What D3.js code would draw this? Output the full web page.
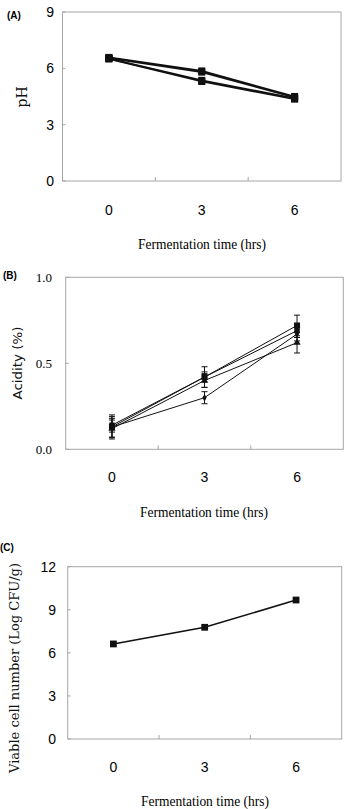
<!DOCTYPE html>
<html><head><meta charset="utf-8">
<script src="https://cdn.jsdelivr.net/npm/d3@7"></script>
<style>body{margin:0;background:#fff}svg{display:block}</style>
</head><body>
<script>
// ---- data ----
const timeCategories = ["0", "3", "6"];
const phTicks = [0, 3, 6, 9];
const phSeries1 = [6.58, 5.86, 4.50];
const phSeries2 = [6.55, 5.80, 4.45];
const phSeries3 = [6.52, 5.36, 4.40];
const phSeries4 = [6.50, 5.30, 4.36];
const acidTicks = [0.0, 0.5, 1.0];
const acidSeries1 = [0.13, 0.42, 0.72];
const acidSeries2 = [0.14, 0.42, 0.69];
const acidSeries3 = [0.12, 0.40, 0.62];
const acidSeries4 = [0.13, 0.30, 0.67];
const acidErr1 = [0.07, 0.06, 0.06];
const acidErr2 = [0.04, 0.03, 0.04];
const acidErr3 = [0.05, 0.04, 0.06];
const acidErr4 = [0.06, 0.035, 0.04];
const cellTicks = [0, 3, 6, 9, 12];
const cellSeries = [6.62, 7.78, 9.68];
const cellErr = [0.12, 0.10, 0.12];

const svg = d3.select("body").append("svg").attr("width", 350).attr("height", 809);

function panel(o) {
  const g = svg.append("g");
  const x = d3.scaleBand().domain(timeCategories).range([o.left, o.right]);
  const y = d3.scaleLinear().domain(o.domain).range([o.bottom, o.top]);
  g.append("rect").attr("x", o.left).attr("y", o.top)
    .attr("width", o.right - o.left).attr("height", o.bottom - o.top)
    .attr("fill", "none").attr("stroke", "#a6a6a6").attr("stroke-width", 1);
  timeCategories.slice(1).forEach(c => {
    g.append("line").attr("x1", x(c)).attr("x2", x(c))
      .attr("y1", o.bottom).attr("y2", o.bottom - 4)
      .attr("stroke", "#a6a6a6");
  });
  o.ticks.forEach(t => {
    g.append("line").attr("x1", o.left).attr("x2", o.left + 3)
      .attr("y1", y(t)).attr("y2", y(t)).attr("stroke", "#a6a6a6");
    g.append("text").attr("x", o.tickX).attr("y", y(t)).attr("dy", "0.35em")
      .attr("text-anchor", "end").attr("font-family", o.tickFont)
      .attr("font-size", o.tickSize).attr("fill", "#000").text(o.fmt(t));
  });
  timeCategories.forEach(c => {
    g.append("text").attr("x", x(c) + x.bandwidth() / 2).attr("y", o.xLabelY)
      .attr("dy", "0.35em").attr("text-anchor", "middle")
      .attr("font-family", "'Liberation Sans Narrow','Liberation Sans',Arial,sans-serif")
      .attr("font-size", 14).attr("fill", "#000").text(c);
  });
  g.append("text").attr("x", o.titleX).attr("y", o.titleY).attr("dy", "0.35em")
    .attr("text-anchor", "middle").attr("font-family", "'Liberation Serif','DejaVu Serif',serif")
    .attr("font-size", 14).attr("textLength", 128).attr("lengthAdjust", "spacingAndGlyphs")
    .attr("fill", "#000").text("Fermentation time (hrs)");
  g.append("text").attr("transform", `translate(${o.yTitleX},${o.yTitleY}) rotate(-90)`)
    .attr("dy", "0.35em").attr("text-anchor", "middle")
    .attr("font-family", o.yTitleFont).attr("font-size", o.yTitleSize)
    .attr("fill", "#111")
    .each(function () { if (o.yTitleLen) d3.select(this).attr("textLength", o.yTitleLen).attr("lengthAdjust", "spacingAndGlyphs"); })
    .text(o.yTitle);
  g.append("text").attr("x", o.letterX).attr("y", o.letterY).attr("dy", "0.35em")
    .attr("font-family", "'Liberation Sans Narrow','Liberation Sans',Arial,sans-serif")
    .attr("font-weight", "bold").attr("font-size", 10).attr("fill", "#000").text(o.letter);

  const cx = c => x(c) + x.bandwidth() / 2;
  const line = d3.line().x((d, i) => cx(timeCategories[i])).y(d => y(d));
  o.series.forEach(s => {
    if (s.err) {
      s.values.forEach((v, i) => {
        const px = cx(timeCategories[i]);
        const lo = y(v - s.err[i]), hi = y(v + s.err[i]);
        g.append("line").attr("x1", px).attr("x2", px).attr("y1", lo).attr("y2", hi)
          .attr("stroke", "#111").attr("stroke-width", 1);
        [lo, hi].forEach(yy => g.append("line").attr("x1", px - 3).attr("x2", px + 3)
          .attr("y1", yy).attr("y2", yy).attr("stroke", "#111").attr("stroke-width", 1));
      });
    }
    g.append("path").attr("d", line(s.values)).attr("fill", "none")
      .attr("stroke", "#111").attr("stroke-width", o.lineW);
  });
  o.series.forEach(s => {
    s.values.forEach((v, i) => {
      const px = cx(timeCategories[i]), py = y(v);
      const sym = d3.symbol().type(s.shape).size(s.size);
      g.append("path").attr("d", sym()).attr("transform", `translate(${px},${py})`)
        .attr("fill", "#111");
    });
  });
}

panel({
  left: 62.5, right: 341, top: 12, bottom: 181, domain: [0, 9], ticks: phTicks,
  fmt: d => String(d), tickX: 54, tickSize: 14,
  tickFont: "'Liberation Sans Narrow','Liberation Sans',Arial,sans-serif",
  xLabelY: 210, titleX: 202, titleY: 244,
  yTitle: "pH", yTitleX: 22, yTitleY: 97, yTitleFont: "'DejaVu Serif',serif", yTitleSize: 14,
  letter: "(A)", letterX: 7, letterY: 15, lineW: 1.8,
  series: [
    { values: phSeries1, shape: d3.symbolSquare, size: 50 },
    { values: phSeries2, shape: d3.symbolSquare, size: 50 },
    { values: phSeries3, shape: d3.symbolSquare, size: 50 },
    { values: phSeries4, shape: d3.symbolSquare, size: 50 }
  ]
});

panel({
  left: 65.7, right: 343.3, top: 277.3, bottom: 449.3, domain: [0, 1], ticks: acidTicks,
  fmt: d3.format(".1f"), tickX: 52, tickSize: 13,
  tickFont: "'Liberation Serif','Times New Roman',serif",
  xLabelY: 477, titleX: 204, titleY: 512,
  yTitle: "Acidity (%)", yTitleX: 18, yTitleY: 363, yTitleFont: "'DejaVu Sans',sans-serif", yTitleSize: 12,
  yTitleLen: 73,
  letter: "(B)", letterX: 3, letterY: 275, lineW: 1,
  series: [
    { values: acidSeries1, err: acidErr1, shape: d3.symbolSquare, size: 36 },
    { values: acidSeries2, err: acidErr2, shape: d3.symbolSquare, size: 30 },
    { values: acidSeries3, err: acidErr3, shape: d3.symbolTriangle, size: 22 },
    { values: acidSeries4, err: acidErr4, shape: d3.symbolDiamond, size: 16 }
  ]
});

panel({
  left: 67.7, right: 341.7, top: 566.7, bottom: 739, domain: [0, 12], ticks: cellTicks,
  fmt: d => String(d), tickX: 56, tickSize: 14,
  tickFont: "'Liberation Sans Narrow','Liberation Sans',Arial,sans-serif",
  xLabelY: 767, titleX: 205, titleY: 801,
  yTitle: "Viable cell number (Log CFU/g)", yTitleX: 15, yTitleY: 668,
  yTitleFont: "'DejaVu Serif',serif", yTitleSize: 12, yTitleLen: 210,
  letter: "(C)", letterX: 0, letterY: 547, lineW: 1.6,
  series: [
    { values: cellSeries, err: cellErr, shape: d3.symbolSquare, size: 46 }
  ]
});
</script>
</body></html>
